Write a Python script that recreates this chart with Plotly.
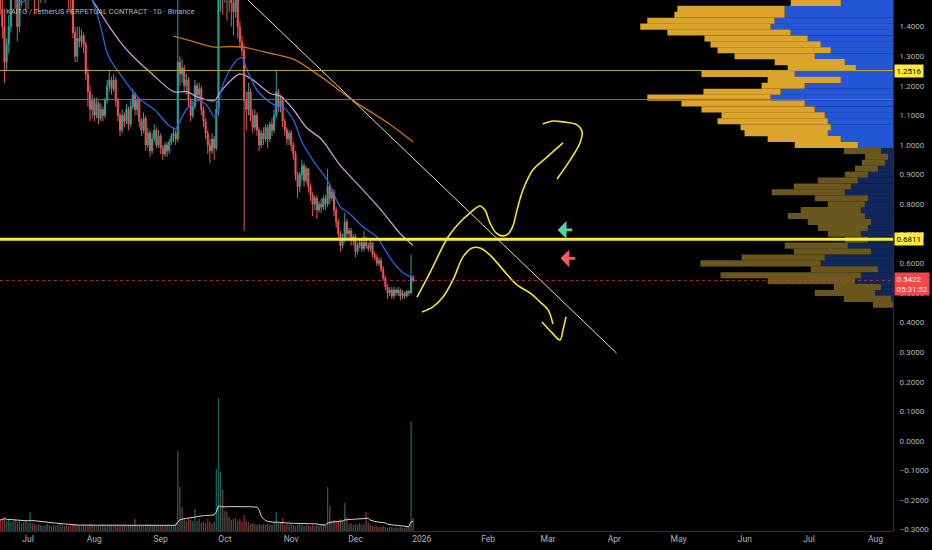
import pandas as pd
import plotly.graph_objects as go

# ---------------- data ----------------
START = "2025-06-18"
FIRST_OPEN = 1.52
close = [1.46,1.40,1.28,1.34,1.40,1.52,1.58,1.50,1.40,1.50,
         1.56,1.60,1.54,1.58,1.70,1.62,1.55,1.60,1.52,1.58,
         1.62,1.57,1.60,1.65,1.58,1.62,1.60,1.66,1.70,1.64,
         1.68,1.62,1.58,1.55,1.38,1.30,1.36,1.35,1.37,1.34,
         1.24,1.18,1.12,1.15,1.10,1.14,1.09,1.12,1.10,1.15,
         1.20,1.22,1.19,1.22,1.15,1.10,1.05,1.10,1.08,1.12,
         1.07,1.13,1.17,1.12,1.15,1.08,1.05,1.09,1.00,1.04,
         0.98,1.02,1.05,1.00,1.03,0.99,0.97,1.00,0.98,1.01,
         1.03,1.04,1.02,1.28,1.24,1.26,1.20,1.22,1.15,1.10,
         1.13,1.20,1.17,1.19,1.12,1.08,1.04,1.00,0.98,1.02,
         0.99,1.12,1.55,1.62,1.50,1.58,1.52,1.55,1.48,1.45,
         1.52,1.40,1.35,1.32,1.15,1.12,1.18,1.10,1.06,1.10,
         1.05,1.00,1.04,1.02,1.06,1.02,1.07,1.05,1.10,1.18,
         1.13,1.15,1.08,1.05,1.02,1.04,1.00,0.97,0.90,0.86,
         0.90,0.93,0.88,0.92,0.86,0.83,0.80,0.82,0.78,0.80,
         0.79,0.82,0.80,0.86,0.82,0.84,0.78,0.74,0.70,0.66,
         0.68,0.74,0.70,0.71,0.68,0.69,0.64,0.66,0.67,0.65,
         0.67,0.66,0.65,0.67,0.63,0.62,0.60,0.61,0.58,0.55,
         0.52,0.50,0.51,0.49,0.51,0.50,0.51,0.49,0.50,0.49,
         0.505,0.50,0.555,0.5422]
high = [1.58,1.50,1.46,1.36,1.44,1.55,1.62,1.60,1.52,1.52,
        1.60,1.65,1.62,1.64,1.78,1.72,1.64,1.63,1.62,1.60,
        1.66,1.64,1.63,1.68,1.66,1.65,1.66,1.69,1.74,1.72,
        1.70,1.70,1.65,1.61,1.57,1.40,1.40,1.40,1.39,1.38,
        1.35,1.26,1.20,1.17,1.16,1.16,1.15,1.14,1.13,1.16,
        1.22,1.25,1.23,1.24,1.23,1.16,1.11,1.12,1.11,1.14,
        1.13,1.15,1.19,1.18,1.16,1.16,1.09,1.11,1.10,1.06,
        1.05,1.04,1.07,1.06,1.05,1.04,1.00,1.01,1.01,1.02,
        1.04,1.06,1.05,1.55,1.30,1.29,1.27,1.24,1.23,1.16,
        1.15,1.22,1.21,1.21,1.20,1.13,1.09,1.05,1.02,1.04,
        1.03,1.15,1.75,1.72,1.65,1.63,1.60,1.58,1.57,1.52,
        1.55,1.53,1.42,1.37,1.34,1.18,1.21,1.19,1.12,1.12,
        1.11,1.06,1.05,1.06,1.07,1.07,1.08,1.09,1.12,1.25,
        1.19,1.17,1.16,1.09,1.06,1.05,1.05,1.01,0.98,0.91,
        0.91,0.95,0.94,0.93,0.92,0.87,0.84,0.83,0.83,0.81,
        0.82,0.83,0.83,0.92,0.87,0.85,0.85,0.79,0.75,0.71,
        0.70,0.77,0.75,0.72,0.72,0.70,0.70,0.67,0.68,0.68,
        0.71,0.69,0.67,0.68,0.67,0.64,0.63,0.62,0.62,0.59,
        0.56,0.53,0.52,0.52,0.52,0.515,0.52,0.515,0.51,0.505,
        0.51,0.51,0.63,0.56]
low = [1.44,1.36,1.21,1.25,1.31,1.38,1.49,1.46,1.35,1.38,
       1.47,1.50,1.45,1.46,1.55,1.52,1.44,1.50,1.45,1.48,
       1.54,1.48,1.52,1.56,1.49,1.55,1.50,1.57,1.62,1.58,
       1.60,1.52,1.46,1.44,1.36,1.28,1.28,1.33,1.33,1.31,
       1.22,1.13,1.08,1.09,1.08,1.09,1.07,1.08,1.08,1.09,
       1.14,1.18,1.17,1.18,1.13,1.08,1.03,1.04,1.06,1.07,
       1.05,1.06,1.12,1.10,1.10,1.06,1.03,1.04,0.98,0.99,
       0.96,0.97,1.01,0.99,0.99,0.97,0.95,0.96,0.96,0.97,
       1.00,1.01,1.00,1.01,1.20,1.21,1.18,1.17,1.13,1.08,
       1.09,1.12,1.15,1.15,1.10,1.06,1.02,0.97,0.94,0.97,
       0.95,0.98,1.10,1.45,1.44,1.48,1.42,1.45,1.40,1.37,
       1.43,1.36,1.33,1.30,0.71,1.05,1.10,1.08,1.04,1.05,
       1.03,0.98,0.99,1.00,1.01,0.99,1.01,1.03,1.04,1.09,
       1.11,1.11,1.06,1.03,1.00,1.00,0.98,0.95,0.88,0.82,
       0.84,0.88,0.86,0.87,0.84,0.81,0.76,0.78,0.75,0.77,
       0.77,0.78,0.78,0.79,0.80,0.81,0.76,0.72,0.68,0.64,
       0.65,0.67,0.68,0.68,0.66,0.66,0.62,0.63,0.65,0.64,
       0.64,0.65,0.64,0.64,0.62,0.61,0.59,0.59,0.57,0.54,
       0.51,0.48,0.49,0.48,0.48,0.49,0.49,0.475,0.48,0.48,
       0.485,0.49,0.495,0.535]
volume = [5.5,6,7,5,5.5,4.5,5,5.5,4.5,5,4,4.5,5,
          4,
          9.5,
          4,3.5,3,3.5,3,2.5,3,3.5,3,2.5,3,2.5,3,3.5,3,2.5,3,2.5,3,3,3.5,3,3,2.5,3,2.5,
          3,3.5,3,2.5,2.5,3,2.5,3,2.5,2.5,3,3,2.5,2.5,3,2.5,2.5,3,2.5,2.5,3,2.5,
          6,
          2.5,3,2.5,2.5,2.5,3,2.5,2.5,3,2.5,2.5,3,2.5,2.5,3,2.5,3,3,
          3.5,40,22,12,6,5,6.5,5.5,5,11,5,6,4,5,4,6,4.5,3.5,4.5,31,66.5,29.5,20.5,10,9.5,
          7,5.5,6,6.5,5,6,4.5,8,5,4.5,3.5,4,3.5,3,3.5,3,3.5,3,3.5,3,3,4,9.5,4,4,6.5,
          3,3.5,3,3.5,3,2.5,3,3.5,3,2.5,3,3,2.5,3,2.5,3,2.5,3,3.5,3,
          22,12.5,5,5.5,4.5,5,6,5,14,7,3.5,4,3,3.5,3,4,3,3.5,9.5,4,3,
          2.5,2,2.5,2,2,2.5,2,1.5,2,2,1.5,2,1.5,2,1.5,1.5,2,2,
          55,6.5]

# moving averages (day index -> value)
ma_fast_idx = [0,6,8,11,14,20,30,38,43,47,50,53,56,61,66,72,79,82,84,87,90,93,97,100,102,103,
               107,111,113,115,120,125,130,132,137,141,146,149,153,159,163,170,176,182,188,193]
ma_fast = [1.56,1.50,1.482,1.485,1.51,1.54,1.59,1.55,1.49,1.40,1.31,1.27,1.24,1.19,1.15,1.12,
           1.065,1.055,1.08,1.12,1.14,1.15,1.13,1.095,1.12,1.18,1.25,1.29,1.295,1.26,1.185,1.15,
           1.13,1.13,1.085,1.01,0.95,0.92,0.88,0.79,0.77,0.72,0.69,0.62,0.57,0.55]
ma_mid_idx = [0,20,30,38,43,51,57,62,71,81,87,93,100,103,108,112,118,126,131,137,143,150,159,168,178,187,193]
ma_mid = [1.75,1.66,1.60,1.54,1.49,1.40,1.34,1.30,1.24,1.18,1.18,1.16,1.15,1.18,1.22,1.24,1.22,
          1.175,1.165,1.12,1.06,1.02,0.93,0.86,0.78,0.70,0.66]
ma_slow_idx = [81,90,97,101,107,114,126,137,150,165,182,193]
ma_slow = [1.368,1.35,1.335,1.33,1.333,1.33,1.31,1.29,1.23,1.15,1.07,1.01]

# volume profile (price rows, up/down volume)
vp_levels = [1.48,1.46,1.44,1.42,1.40,1.38,1.36,1.34,1.32,1.30,1.28,1.26,1.24,1.22,1.20,1.18,
             1.16,1.14,1.12,1.10,1.08,1.06,1.04,1.02,1.00,0.98,0.96,0.94,0.92,0.90,0.88,0.86,
             0.84,0.82,0.80,0.78,0.76,0.74,0.72,0.70,0.68,0.66,0.64,0.62,0.60,0.58,0.56,0.54,
             0.52,0.50,0.48,0.46]
vp_up = [52,108,108,118,122,102,85,72,62,78,48,37,98,52,88,112,122,88,78,68,65,62,65,52,35,
         12,5,8,15,25,35,42,48,25,28,32,28,22,25,32,25,45,22,68,72,15,32,38,12,18,2,0]
vp_down = [50,107,110,127,130,123,103,110,113,80,70,68,93,73,43,77,123,123,113,103,110,90,83,
           73,63,37,23,23,23,23,40,57,73,53,37,60,77,63,50,33,23,63,77,83,120,67,140,87,47,60,
           47,20]
VALUE_AREA_LOW = 0.99

# horizontal levels
LEVEL_KEY = 0.6811
LEVEL_UPPER = 1.2516
LEVEL_RED = 1.1537
COUNTDOWN = "05:31:52"

# drawings
trend_dates = ["2025-10-06", "2026-04-02"]
trend_prices = [1.530, 0.297]
up_dates = ["2025-12-29 19:00","2026-01-04 19:00","2026-01-13 07:00","2026-01-18 22:00",
            "2026-01-23 12:00","2026-01-28 05:00","2026-01-30 12:00","2026-02-01 22:00",
            "2026-02-04 17:00","2026-02-07 12:00","2026-02-10 07:00","2026-02-12 14:00",
            "2026-02-14 12:00","2026-02-17 07:00","2026-02-22 00:00","2026-02-28 12:00",
            "2026-03-08 00:00"]
up_prices = [0.486,0.568,0.689,0.740,0.770,0.794,0.780,0.736,0.703,0.693,0.699,0.726,0.780,
             0.848,0.916,0.959,1.007]
up_head_dates = ["2026-02-26 14:00","2026-03-03 07:00","2026-03-08 00:00","2026-03-14 12:00",
                 "2026-03-16 22:00","2026-03-15 22:00","2026-03-11 07:00","2026-03-05 05:00"]
up_head_prices = [1.071,1.081,1.078,1.068,1.044,1.007,0.949,0.885]
down_dates = ["2026-01-01 02:00","2026-01-06 05:00","2026-01-10 22:00","2026-01-15 14:00",
              "2026-01-20 07:00","2026-01-24 12:00","2026-01-28 05:00","2026-02-01 22:00",
              "2026-02-08 00:00","2026-02-14 12:00","2026-02-20 14:00","2026-02-25 05:00",
              "2026-03-01 00:00","2026-03-03 07:00"]
down_prices = [0.436,0.453,0.486,0.544,0.622,0.652,0.652,0.628,0.578,0.527,0.500,0.470,0.443,0.395]
down_head_dates = ["2026-02-26 05:00","2026-03-02 22:00","2026-03-06 14:00","2026-03-08 00:00",
                   "2026-03-09 10:00"]
down_head_prices = [0.402,0.365,0.341,0.375,0.419]
signal_dates = ["2026-03-05 12:00", "2026-03-06 20:00"]
signal_prices = [0.713, 0.617]
signal_colors = ["#4fd6a6", "#f25a5f"]

month_ticks = ["2025-07-01","2025-08-01","2025-09-01","2025-10-01","2025-11-01","2025-12-01",
               "2026-01-01","2026-02-01","2026-03-01","2026-04-01","2026-05-01","2026-06-01",
               "2026-07-01","2026-08-01"]
month_labels = ["Jul","Aug","Sep","Oct","Nov","Dec","2026","Feb","Mar","Apr","May","Jun","Jul","Aug"]
X_RANGE = ["2025-06-17 22:00", "2026-08-09 05:00"]
Y_RANGE = [-0.3045, 1.49]
TITLE = "KAITO / TetherUS PERPETUAL CONTRACT · 1D · Binance"

# ---------------- derived ----------------
n = len(close)
assert len(high) == n and len(low) == n and len(volume) == n, (len(high), len(low), len(volume))
dates = pd.date_range(START, periods=n, freq="D")
opens = [FIRST_OPEN] + close[:-1]
vol_ma = pd.Series(volume).rolling(20, min_periods=1).mean()

UP = "#26a69a"
DOWN = "#ef5350"
vol_colors = ["rgba(38,166,154,0.6)" if c >= o else "rgba(239,83,80,0.6)" for o, c in zip(opens, close)]

vp_up_col = ["#2457d6" if p >= VALUE_AREA_LOW else "#10275c" for p in vp_levels]
vp_dn_col = ["#dba52b" if p >= VALUE_AREA_LOW else "#6a571d" for p in vp_levels]
vp_total_max = max(u + d for u, d in zip(vp_up, vp_down))
VP_SPAN = vp_total_max / 0.283

fig = go.Figure()

# volume profile
fig.add_trace(go.Bar(y=vp_levels, x=vp_up, orientation="h", xaxis="x2", yaxis="y",
                     width=0.0205, marker=dict(color=vp_up_col, line=dict(width=0)), hoverinfo="skip"))
fig.add_trace(go.Bar(y=vp_levels, x=vp_down, base=vp_up, orientation="h", xaxis="x2", yaxis="y",
                     width=0.0205, marker=dict(color=vp_dn_col, line=dict(width=0)), hoverinfo="skip"))

# volume
fig.add_trace(go.Bar(x=dates, y=volume, yaxis="y2", width=0.6 * 86400000,
                     marker=dict(color=vol_colors, line=dict(width=0)), hoverinfo="skip"))
fig.add_trace(go.Scatter(x=dates, y=vol_ma, yaxis="y2", mode="lines",
                         line=dict(color="#d6d6d6", width=1), hoverinfo="skip"))

# candles
fig.add_trace(go.Candlestick(x=dates, open=opens, high=high, low=low, close=close,
                             increasing=dict(line=dict(color=UP, width=1), fillcolor=UP),
                             decreasing=dict(line=dict(color=DOWN, width=1), fillcolor=DOWN),
                             whiskerwidth=0, hoverinfo="skip"))

# moving averages
for idx, vals, col, w in [(ma_slow_idx, ma_slow, "#c8700f", 1.4),
                          (ma_mid_idx, ma_mid, "#c59bd2", 1.3),
                          (ma_fast_idx, ma_fast, "#2a62e0", 1.3)]:
    fig.add_trace(go.Scatter(x=[dates[i] for i in idx], y=vals, mode="lines",
                             line=dict(color=col, width=w, shape="spline", smoothing=0.8),
                             hoverinfo="skip"))

# trendline & drawings
fig.add_trace(go.Scatter(x=trend_dates, y=trend_prices, mode="lines",
                         line=dict(color="#ece7a6", width=1), hoverinfo="skip"))
for xs, ys in [(up_dates, up_prices), (up_head_dates, up_head_prices),
               (down_dates, down_prices), (down_head_dates, down_head_prices)]:
    fig.add_trace(go.Scatter(x=xs, y=ys, mode="lines",
                             line=dict(color="#f5e52a", width=1.6, shape="spline", smoothing=1.0),
                             hoverinfo="skip"))

shapes = [
    dict(type="line", xref="paper", x0=0, x1=1, yref="y", y0=LEVEL_UPPER, y1=LEVEL_UPPER,
         line=dict(color="#b9a93c", width=1), layer="above"),
    dict(type="line", xref="paper", x0=0, x1=1, yref="y", y0=LEVEL_RED, y1=LEVEL_RED,
         line=dict(color="#e2403a", width=1), layer="above"),
    dict(type="line", xref="paper", x0=0, x1=1, yref="y", y0=LEVEL_KEY, y1=LEVEL_KEY,
         line=dict(color="#ffeb3b", width=3), layer="above"),
    dict(type="line", xref="paper", x0=0, x1=1, yref="y", y0=close[-1], y1=close[-1],
         line=dict(color="rgba(200,60,60,0.75)", width=1, dash="dot"), layer="above"),
]

label_font = dict(family="Roboto, Arial, sans-serif", size=8)
annotations = [
    dict(text=TITLE, xref="paper", yref="paper", x=0, y=1, xanchor="left", yanchor="top",
         xshift=4, yshift=-5, showarrow=False,
         font=dict(family="Roboto, Arial, sans-serif", size=7.5, color="#b2b5be")),
    dict(text=f"{LEVEL_UPPER:.4f}", xref="paper", yref="y", x=1, y=LEVEL_UPPER, xanchor="left",
         xshift=1, showarrow=False, bgcolor="#ffeb3b", borderpad=1.5,
         font=dict(label_font, color="#000000")),
    dict(text=f"{LEVEL_KEY:.4f}", xref="paper", yref="y", x=1, y=LEVEL_KEY, xanchor="left",
         xshift=1, showarrow=False, bgcolor="#ffeb3b", borderpad=1.5,
         font=dict(label_font, color="#000000")),
    dict(text=f"{close[-1]:.4f}<br>{COUNTDOWN}", xref="paper", yref="y", x=1, y=close[-1],
         xanchor="left", yanchor="top", yshift=8, xshift=1, showarrow=False, bgcolor="#f0474f",
         borderpad=1.5, align="left", font=dict(label_font, color="#fff4d6")),
]
for sd, sp, sc in zip(signal_dates, signal_prices, signal_colors):
    annotations.append(dict(x=sd, y=sp, xref="x", yref="y", text="", showarrow=True,
                            ax=16, ay=0, arrowhead=1, arrowsize=1.05, arrowwidth=2.8,
                            arrowcolor=sc))

fig.update_layout(
    width=932, height=550,
    paper_bgcolor="#000000", plot_bgcolor="#000000",
    margin=dict(l=0, r=39, t=0, b=19, pad=0),
    showlegend=False, barmode="overlay",
    shapes=shapes, annotations=annotations,
    xaxis=dict(type="date", range=X_RANGE, tickvals=month_ticks, ticktext=month_labels,
               showgrid=False, zeroline=False, showline=True, linecolor="#2a2e39", linewidth=1,
               ticks="", tickfont=dict(family="Roboto, Arial, sans-serif", size=8.5, color="#b2b5be"),
               rangeslider=dict(visible=False), fixedrange=True),
    xaxis2=dict(overlaying="x", range=[VP_SPAN, 0], visible=False, showgrid=False, zeroline=False),
    yaxis=dict(side="right", range=Y_RANGE, dtick=0.1, tick0=0, tickformat=".4f",
               showgrid=False, zeroline=False, showline=True, linecolor="#2a2e39", linewidth=1,
               ticks="", ticklabelstandoff=4,
               tickfont=dict(family="Roboto, Arial, sans-serif", size=8, color="#b2b5be")),
    yaxis2=dict(overlaying="y", range=[0, max(volume) * 4.0], visible=False,
                showgrid=False, zeroline=False),
)

fig.write_html("out.html", config={"displayModeBar": False},
               post_script="document.body.style.margin='0';document.body.style.background='#000';")
